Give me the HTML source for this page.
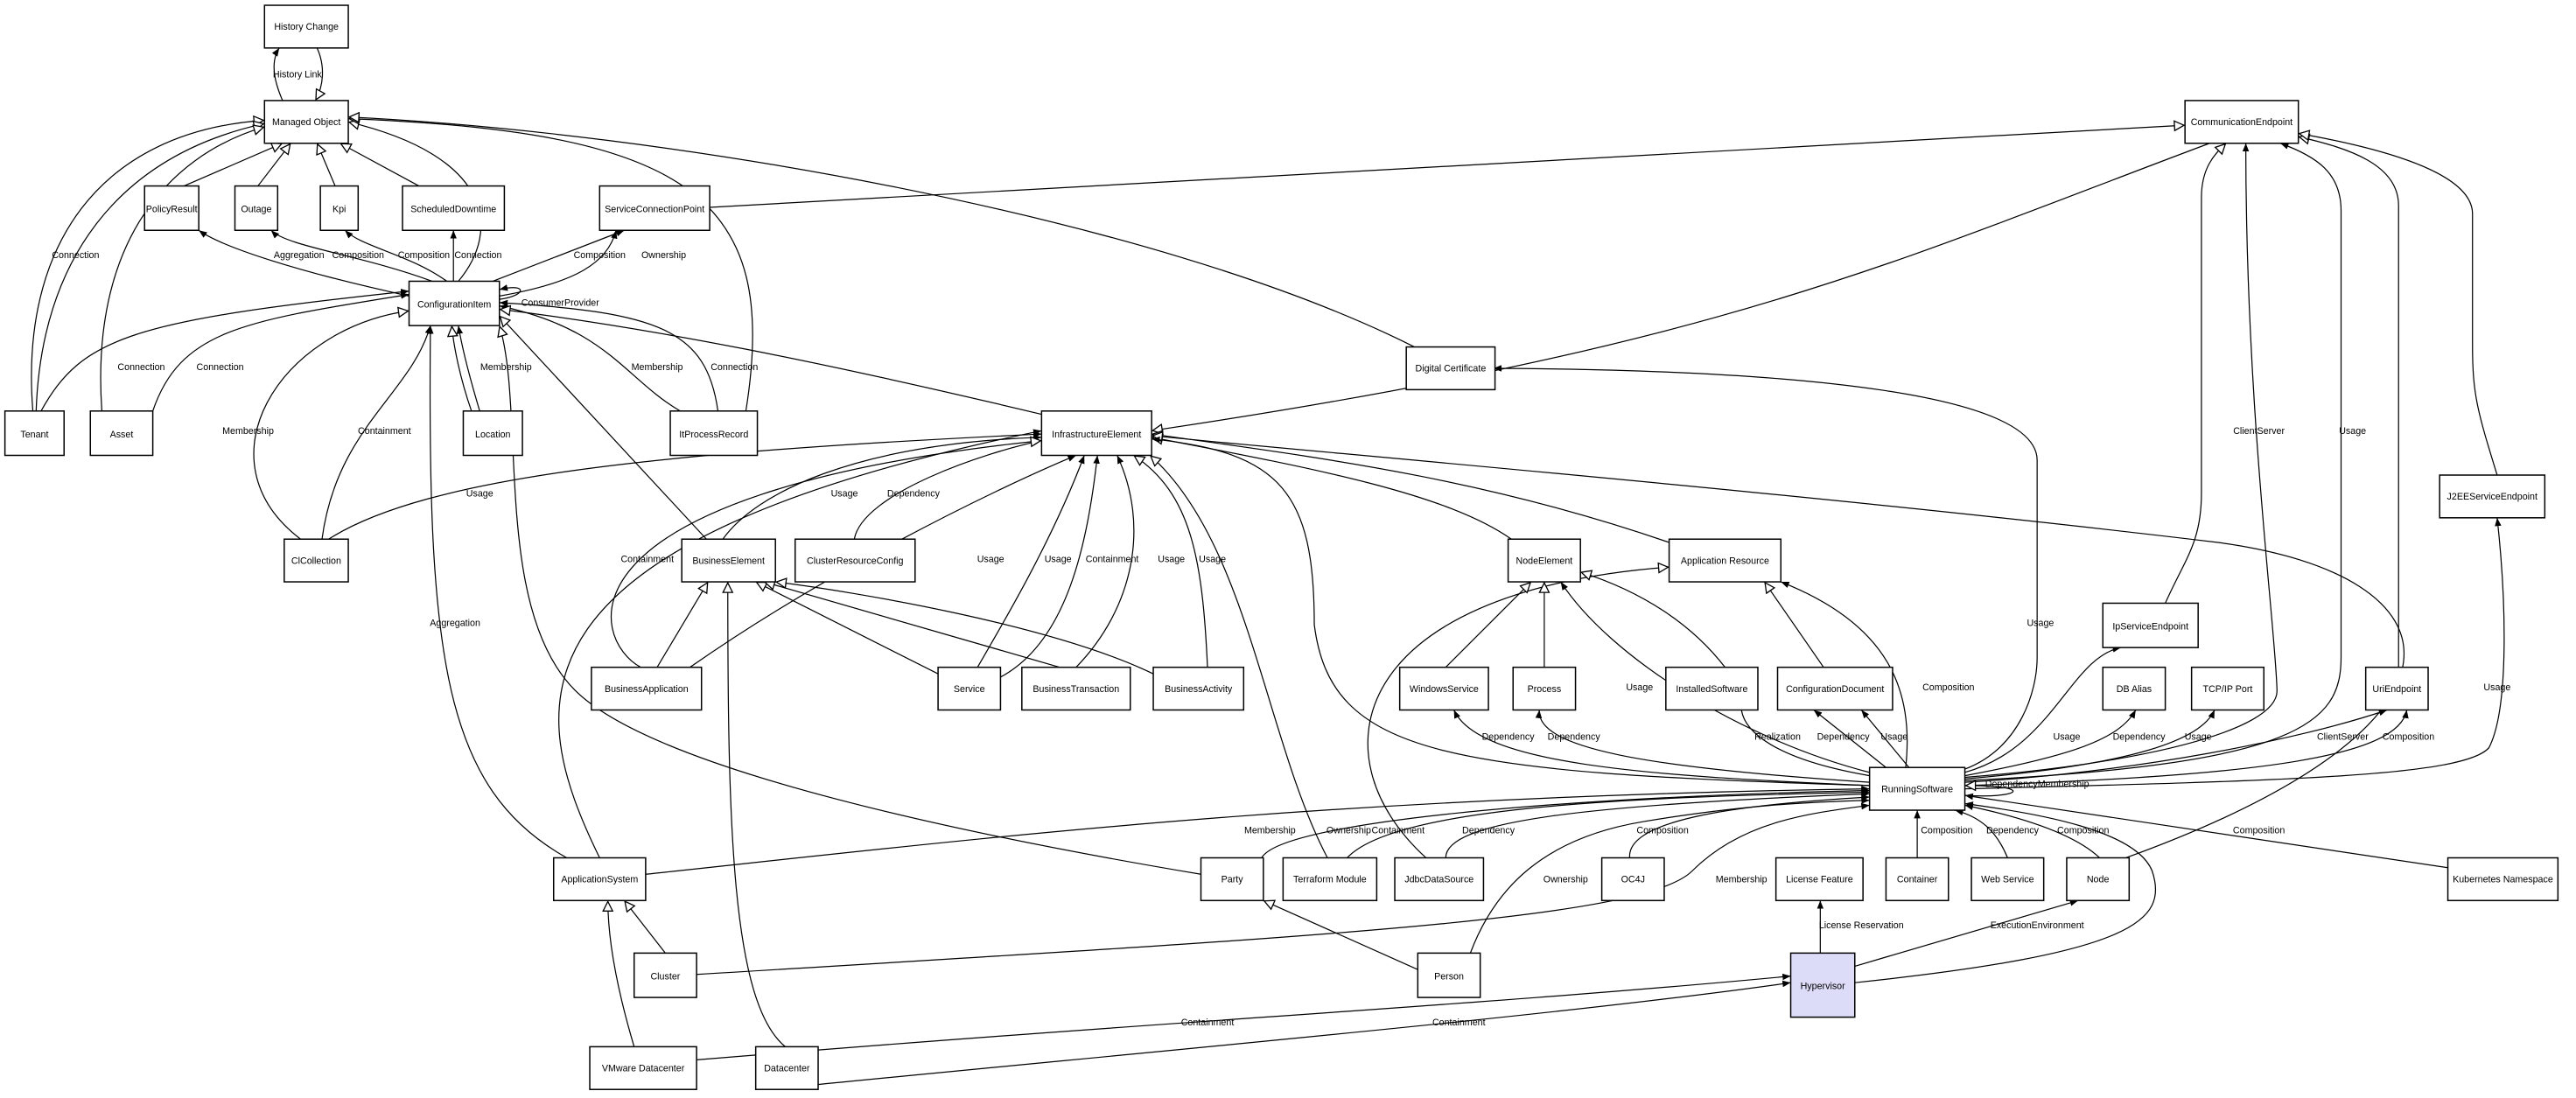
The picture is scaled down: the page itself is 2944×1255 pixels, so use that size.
<!DOCTYPE html>
<html><head><meta charset="utf-8"><style>
html,body{margin:0;padding:0;background:#fff;}
svg{display:block;}
text{font-family:"Liberation Sans",sans-serif;font-size:5.7px;fill:#000;}
.b{fill:#fff;stroke:#000;stroke-width:0.8;}
.e{fill:none;stroke:#000;stroke-width:0.65;}
</style></head><body>
<svg width="2944" height="1255" viewBox="0 0 1568 668" xmlns="http://www.w3.org/2000/svg">
<defs>
<marker id="f" viewBox="0 0 10 10" refX="10" refY="5" markerWidth="5" markerHeight="5" orient="auto" markerUnits="userSpaceOnUse"><path d="M0,1 L10,5 L0,9 z" fill="#000"/></marker>
<marker id="h" viewBox="0 0 12 12" refX="12" refY="6" markerWidth="7" markerHeight="7" orient="auto" markerUnits="userSpaceOnUse"><path d="M1,1 L11,6 L1,11 z" fill="#fff" stroke="#000" stroke-width="1.2"/></marker>
</defs>
<g class="e">
<path d="M172,61 C165,45 166,35 170,29" marker-end="url(#f)"/>
<path d="M193,29 C198,40 197,52 192,61" marker-end="url(#h)"/>
<path d="M112,113 L172,87" marker-end="url(#h)"/>
<path d="M157,113 L177,87" marker-end="url(#h)"/>
<path d="M204,113 L193,87" marker-end="url(#h)"/>
<path d="M255,113 L207,87" marker-end="url(#h)"/>
<path d="M279,171 C305,140 300,95 212,74" marker-end="url(#h)"/>
<path d="M454,250 C475,120 420,80 212,72" marker-end="url(#h)"/>
<path d="M861,211 C700,130 400,80 212,71" marker-end="url(#h)"/>
<path d="M20,250 C12,150 60,80 161,73" marker-end="url(#h)"/>
<path d="M22,250 C25,160 70,95 161,75" marker-end="url(#h)"/>
<path d="M62,250 C55,150 100,95 161,77" marker-end="url(#h)"/>
<path d="M249,180 C180,165 135,150 121,140" marker-end="url(#f)"/>
<path d="M263,171 C220,155 175,150 165,140" marker-end="url(#f)"/>
<path d="M272,171 C250,155 220,150 210,140" marker-end="url(#f)"/>
<path d="M276,171 L276,140" marker-end="url(#f)"/>
<path d="M300,171 L380,140" marker-end="url(#f)"/>
<path d="M304,180 C350,172 370,160 375,140" marker-end="url(#f)"/>
<path d="M304,182 C320,180 322,172 304,176" marker-end="url(#f)"/>
<path d="M25,250 C50,205 80,195 249,177" marker-end="url(#f)"/>
<path d="M93,250 C110,200 150,195 249,179" marker-end="url(#f)"/>
<path d="M183,328 C120,280 170,200 249,189" marker-end="url(#h)"/>
<path d="M196,328 C205,260 250,240 262,198" marker-end="url(#f)"/>
<path d="M287,250 C280,230 276,210 275,198" marker-end="url(#h)"/>
<path d="M292,250 C286,230 281,210 279,198" marker-end="url(#f)"/>
<path d="M414,250 C380,230 370,200 304,186" marker-end="url(#f)"/>
<path d="M437,250 C430,200 400,190 304,184" marker-end="url(#f)"/>
<path d="M634,252 C500,220 400,200 304,188" marker-end="url(#h)"/>
<path d="M430,328 L304,192" marker-end="url(#h)"/>
<path d="M345,522 C270,480 260,400 262,198" marker-end="url(#f)"/>
<path d="M731,532 C600,510 400,470 350,420 C300,370 320,250 304,198" marker-end="url(#h)"/>
<path d="M1345,87 C1150,160 1050,210 701,262" marker-end="url(#h)"/>
<path d="M432,126 L1330,76" marker-end="url(#h)"/>
<path d="M200,328 C260,290 400,275 634,264" marker-end="url(#f)"/>
<path d="M440,328 C460,300 520,270 634,266" marker-end="url(#f)"/>
<path d="M520,328 C525,300 600,275 634,268" marker-end="url(#f)"/>
<path d="M390,406 C360,390 330,300 634,268" marker-end="url(#h)"/>
<path d="M420,406 C500,350 600,300 655,277" marker-end="url(#f)"/>
<path d="M595,406 C610,380 640,330 660,277" marker-end="url(#f)"/>
<path d="M609,412 C650,390 662,330 668,277" marker-end="url(#f)"/>
<path d="M655,406 C690,370 700,320 680,277" marker-end="url(#f)"/>
<path d="M735,406 C732,340 725,300 690,277" marker-end="url(#h)"/>
<path d="M808,522 C770,450 760,330 700,277" marker-end="url(#h)"/>
<path d="M365,522 C320,430 300,330 634,262" marker-end="url(#f)"/>
<path d="M920,328 C880,300 800,285 701,266" marker-end="url(#h)"/>
<path d="M1016,330 C900,290 800,278 701,264" marker-end="url(#h)"/>
<path d="M1294,522 C1520,440 1500,350 1350,330 C1100,300 800,275 701,265" marker-end="url(#h)"/>
<path d="M1138,478 C880,470 810,460 800,380 C800,300 780,275 701,267" marker-end="url(#f)"/>
<path d="M868,522 C800,460 820,360 1016,345" marker-end="url(#h)"/>
<path d="M880,406 L932,354" marker-end="url(#h)"/>
<path d="M940,406 L940,354" marker-end="url(#h)"/>
<path d="M1050,406 C1030,380 1000,360 962,348" marker-end="url(#h)"/>
<path d="M1110,406 L1074,354" marker-end="url(#h)"/>
<path d="M1138,470 C1060,450 980,400 950,354" marker-end="url(#f)"/>
<path d="M1160,467 C1165,420 1150,380 1084,354" marker-end="url(#f)"/>
<path d="M1138,478 C1000,472 900,465 885,432" marker-end="url(#f)"/>
<path d="M1138,476 C1000,467 935,455 937,432" marker-end="url(#f)"/>
<path d="M1138,472 C1080,462 1062,445 1060,432"/>
<path d="M1148,467 L1104,432" marker-end="url(#f)"/>
<path d="M1162,467 L1133,432" marker-end="url(#f)"/>
<path d="M1196,470 C1250,455 1260,400 1291,394" marker-end="url(#f)"/>
<path d="M1196,472 C1260,460 1290,450 1300,432" marker-end="url(#f)"/>
<path d="M1196,474 C1300,465 1340,450 1348,432" marker-end="url(#f)"/>
<path d="M1196,476 C1300,470 1400,450 1453,432" marker-end="url(#f)"/>
<path d="M1196,478 C1380,472 1460,460 1465,432" marker-end="url(#f)"/>
<path d="M1196,480 C1400,475 1500,472 1515,455 C1528,430 1525,360 1520,315" marker-end="url(#f)"/>
<path d="M1196,473 C1300,465 1387,445 1386,420 C1385,380 1367,250 1367,87" marker-end="url(#f)"/>
<path d="M1196,475 C1400,465 1425,440 1425,400 L1425,128 C1425,105 1410,95 1388,87" marker-end="url(#f)"/>
<path d="M1460,406 L1460,125 C1460,100 1430,90 1399,83" marker-end="url(#h)"/>
<path d="M1520,289 C1508,250 1505,240 1505,210 L1505,130 C1505,105 1450,90 1399,81" marker-end="url(#h)"/>
<path d="M1318,367 C1330,340 1340,330 1340,300 L1340,120 C1340,100 1350,92 1355,87" marker-end="url(#h)"/>
<path d="M1196,468 C1230,455 1240,420 1240,400 L1240,280 C1240,240 1100,225 909,224" marker-end="url(#f)"/>
<path d="M1196,484 C1230,486 1240,478 1196,478" marker-end="url(#h)"/>
<path d="M1167,522 L1167,493" marker-end="url(#f)"/>
<path d="M1222,522 C1215,505 1205,497 1190,493" marker-end="url(#f)"/>
<path d="M1278,522 C1260,505 1220,495 1196,490" marker-end="url(#f)"/>
<path d="M1490,528 L1196,484" marker-end="url(#f)"/>
<path d="M1129,598 C1300,580 1320,560 1310,530 C1300,505 1240,495 1196,489" marker-end="url(#f)"/>
<path d="M1129,588 L1265,548" marker-end="url(#f)"/>
<path d="M1108,580 L1108,548" marker-end="url(#f)"/>
<path d="M424,593 C800,570 1000,560 1030,530 C1060,500 1100,495 1138,490" marker-end="url(#f)"/>
<path d="M895,580 C910,540 940,510 1000,500 C1060,490 1100,488 1138,487" marker-end="url(#f)"/>
<path d="M863,590 L769,548" marker-end="url(#h)"/>
<path d="M992,522 C990,500 1050,490 1138,485" marker-end="url(#f)"/>
<path d="M880,522 C880,500 960,490 1138,483" marker-end="url(#f)"/>
<path d="M820,522 C850,490 1000,485 1138,482" marker-end="url(#f)"/>
<path d="M768,522 C780,500 950,485 1138,481" marker-end="url(#f)"/>
<path d="M393,532 C600,510 800,485 1138,480" marker-end="url(#f)"/>
<path d="M405,580 L380,548" marker-end="url(#h)"/>
<path d="M386,637 C375,600 370,570 370,548" marker-end="url(#h)"/>
<path d="M424,645 C700,622 900,612 1090,594" marker-end="url(#f)"/>
<path d="M498,660 C700,640 950,618 1090,598" marker-end="url(#f)"/>
<path d="M478,637 C445,610 443,500 443,354" marker-end="url(#h)"/>
<path d="M400,406 L431,354" marker-end="url(#h)"/>
<path d="M571,410 L460,354" marker-end="url(#h)"/>
<path d="M645,406 L465,354" marker-end="url(#h)"/>
<path d="M702,410 C640,380 520,360 472,354" marker-end="url(#h)"/>
</g>
<g text-anchor="middle">
<text x="181" y="47">History Link</text>
<text x="46" y="157">Connection</text>
<text x="182" y="157">Aggregation</text>
<text x="218" y="157">Composition</text>
<text x="258" y="157">Composition</text>
<text x="291" y="157">Connection</text>
<text x="365" y="157">Composition</text>
<text x="404" y="157">Ownership</text>
<text x="341" y="186">ConsumerProvider</text>
<text x="86" y="225">Connection</text>
<text x="134" y="225">Connection</text>
<text x="308" y="225">Membership</text>
<text x="400" y="225">Membership</text>
<text x="447" y="225">Connection</text>
<text x="151" y="264">Membership</text>
<text x="234" y="264">Containment</text>
<text x="292" y="302">Usage</text>
<text x="514" y="302">Usage</text>
<text x="556" y="302">Dependency</text>
<text x="394" y="342">Containment</text>
<text x="603" y="342">Usage</text>
<text x="644" y="342">Usage</text>
<text x="677" y="342">Containment</text>
<text x="713" y="342">Usage</text>
<text x="738" y="342">Usage</text>
<text x="277" y="381">Aggregation</text>
<text x="1375" y="264">ClientServer</text>
<text x="1432" y="264">Usage</text>
<text x="1242" y="381">Usage</text>
<text x="998" y="420">Usage</text>
<text x="1186" y="420">Composition</text>
<text x="1520" y="420">Usage</text>
<text x="918" y="450">Dependency</text>
<text x="958" y="450">Dependency</text>
<text x="1082" y="450">Realization</text>
<text x="1122" y="450">Dependency</text>
<text x="1153" y="450">Usage</text>
<text x="1258" y="450">Usage</text>
<text x="1302" y="450">Dependency</text>
<text x="1338" y="450">Usage</text>
<text x="1426" y="450">ClientServer</text>
<text x="1466" y="450">Composition</text>
<text x="1240" y="479">DependencyMembership</text>
<text x="773" y="507">Membership</text>
<text x="821" y="507">Ownership</text>
<text x="851" y="507">Containment</text>
<text x="906" y="507">Dependency</text>
<text x="1012" y="507">Composition</text>
<text x="1185" y="507">Composition</text>
<text x="1225" y="507">Dependency</text>
<text x="1268" y="507">Composition</text>
<text x="1375" y="507">Composition</text>
<text x="953" y="537">Ownership</text>
<text x="1060" y="537">Membership</text>
<text x="1133" y="565">License Reservation</text>
<text x="1240" y="565">ExecutionEnvironment</text>
<text x="735" y="624">Containment</text>
<text x="888" y="624">Containment</text>
</g>
<g>
<rect class="b" x="161" y="3" width="51" height="26"/>
<rect class="b" x="161" y="61" width="51" height="26"/>
<rect class="b" x="88" y="113" width="33" height="27"/>
<rect class="b" x="143" y="113" width="26" height="27"/>
<rect class="b" x="195" y="113" width="23" height="27"/>
<rect class="b" x="245" y="113" width="62" height="27"/>
<rect class="b" x="365" y="113" width="67" height="27"/>
<rect class="b" x="249" y="171" width="55" height="27"/>
<rect class="b" x="3" y="250" width="36" height="27"/>
<rect class="b" x="55" y="250" width="38" height="27"/>
<rect class="b" x="282" y="250" width="36" height="27"/>
<rect class="b" x="408" y="250" width="53" height="27"/>
<rect class="b" x="1330" y="61" width="69" height="26"/>
<rect class="b" x="856" y="211" width="54" height="26"/>
<rect class="b" x="634" y="250" width="67" height="27"/>
<rect class="b" x="173" y="328" width="39" height="26"/>
<rect class="b" x="415" y="328" width="57" height="26"/>
<rect class="b" x="484" y="328" width="73" height="26"/>
<rect class="b" x="918" y="328" width="44" height="26"/>
<rect class="b" x="1016" y="328" width="68" height="26"/>
<rect class="b" x="1485" y="289" width="64" height="26"/>
<rect class="b" x="1280" y="367" width="58" height="27"/>
<rect class="b" x="360" y="406" width="67" height="26"/>
<rect class="b" x="571" y="406" width="38" height="26"/>
<rect class="b" x="622" y="406" width="66" height="26"/>
<rect class="b" x="702" y="406" width="55" height="26"/>
<rect class="b" x="852" y="406" width="54" height="26"/>
<rect class="b" x="921" y="406" width="38" height="26"/>
<rect class="b" x="1014" y="406" width="56" height="26"/>
<rect class="b" x="1082" y="406" width="70" height="26"/>
<rect class="b" x="1280" y="406" width="38" height="26"/>
<rect class="b" x="1334" y="406" width="44" height="26"/>
<rect class="b" x="1440" y="406" width="38" height="26"/>
<rect class="b" x="1138" y="467" width="58" height="26"/>
<rect class="b" x="337" y="522" width="56" height="26"/>
<rect class="b" x="731" y="522" width="38" height="26"/>
<rect class="b" x="781" y="522" width="57" height="26"/>
<rect class="b" x="849" y="522" width="54" height="26"/>
<rect class="b" x="975" y="522" width="38" height="26"/>
<rect class="b" x="1081" y="522" width="53" height="26"/>
<rect class="b" x="1148" y="522" width="38" height="26"/>
<rect class="b" x="1200" y="522" width="44" height="26"/>
<rect class="b" x="1258" y="522" width="38" height="26"/>
<rect class="b" x="1490" y="522" width="67" height="26"/>
<rect class="b" x="386" y="580" width="38" height="27"/>
<rect class="b" x="863" y="580" width="38" height="27"/>
<rect class="b" x="1090" y="580" width="39" height="39" style="fill:#dcdcf8"/>
<rect class="b" x="359" y="637" width="65" height="26"/>
<rect class="b" x="460" y="637" width="38" height="26"/>
</g>
<g text-anchor="middle">
<text x="186.5" y="18">History Change</text>
<text x="186.5" y="76">Managed Object</text>
<text x="104.5" y="129">PolicyResult</text>
<text x="156" y="129">Outage</text>
<text x="206.5" y="129">Kpi</text>
<text x="276" y="129">ScheduledDowntime</text>
<text x="398.5" y="129">ServiceConnectionPoint</text>
<text x="276.5" y="187">ConfigurationItem</text>
<text x="21" y="266">Tenant</text>
<text x="74" y="266">Asset</text>
<text x="300" y="266">Location</text>
<text x="434.5" y="266">ItProcessRecord</text>
<text x="1364.5" y="76">CommunicationEndpoint</text>
<text x="883" y="226">Digital Certificate</text>
<text x="667.5" y="266">InfrastructureElement</text>
<text x="192.5" y="343">ClCollection</text>
<text x="443.5" y="343">BusinessElement</text>
<text x="520.5" y="343">ClusterResourceConfig</text>
<text x="940" y="343">NodeElement</text>
<text x="1050" y="343">Application Resource</text>
<text x="1517" y="304">J2EEServiceEndpoint</text>
<text x="1309" y="383">IpServiceEndpoint</text>
<text x="393.5" y="421">BusinessApplication</text>
<text x="590" y="421">Service</text>
<text x="655" y="421">BusinessTransaction</text>
<text x="729.5" y="421">BusinessActivity</text>
<text x="879" y="421">WindowsService</text>
<text x="940" y="421">Process</text>
<text x="1042" y="421">InstalledSoftware</text>
<text x="1117" y="421">ConfigurationDocument</text>
<text x="1299" y="421">DB Alias</text>
<text x="1356" y="421">TCP/IP Port</text>
<text x="1459" y="421">UriEndpoint</text>
<text x="1167" y="482">RunningSoftware</text>
<text x="365" y="537">ApplicationSystem</text>
<text x="750" y="537">Party</text>
<text x="809.5" y="537">Terraform Module</text>
<text x="876" y="537">JdbcDataSource</text>
<text x="994" y="537">OC4J</text>
<text x="1107.5" y="537">License Feature</text>
<text x="1167" y="537">Container</text>
<text x="1222" y="537">Web Service</text>
<text x="1277" y="537">Node</text>
<text x="1523.5" y="537">Kubernetes Namespace</text>
<text x="405" y="596">Cluster</text>
<text x="882" y="596">Person</text>
<text x="1109.5" y="602">Hypervisor</text>
<text x="391.5" y="652">VMware Datacenter</text>
<text x="479" y="652">Datacenter</text>
</g>
</svg>
</body></html>
